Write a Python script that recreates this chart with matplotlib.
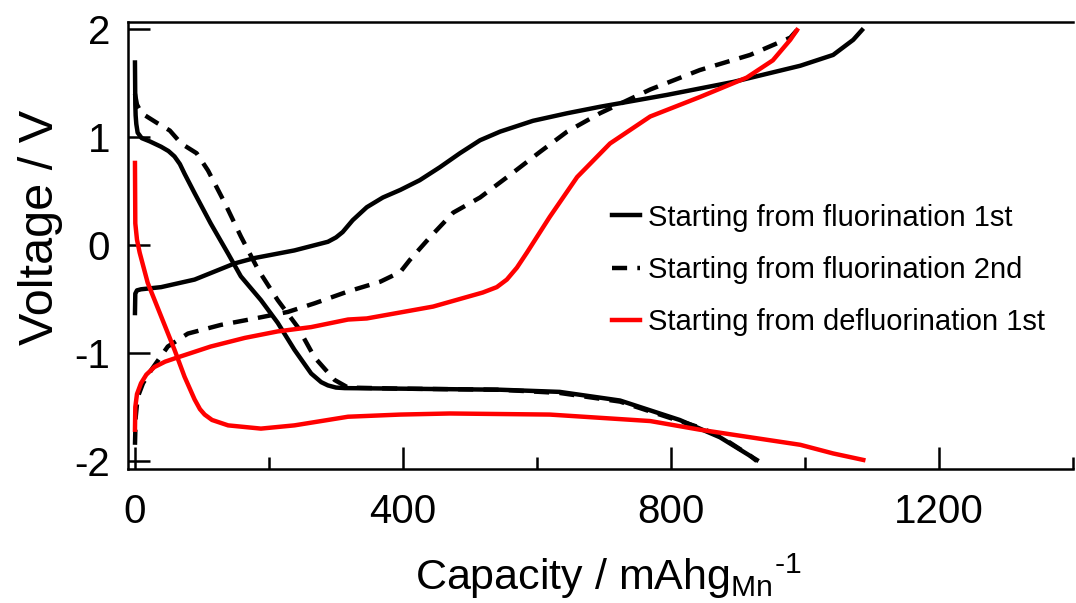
"""Charge/discharge voltage profiles vs. capacity (fluorination / defluorination)."""
import matplotlib

matplotlib.use("Agg")
import matplotlib.pyplot as plt
from matplotlib.ticker import MultipleLocator

# --- data (capacity in mAh g_Mn^-1, voltage in V) ---
# starting from fluorination, 1st cycle
fl1_dis_x = [0, 0.5, 1, 2, 4, 10, 22, 39, 50, 59, 67, 74, 89, 113, 139, 158, 188,
             213, 238, 263, 278, 288, 300, 313, 396, 545, 634, 724, 813, 873, 928]
fl1_dis_y = [1.69, 1.30, 1.20, 1.12, 1.04, 0.99, 0.96, 0.91, 0.87, 0.82, 0.75,
             0.66, 0.48, 0.20, -0.08, -0.29, -0.51, -0.72, -0.97, -1.19, -1.27,
             -1.30, -1.32, -1.325, -1.33, -1.34, -1.36, -1.44, -1.62, -1.78, -1.99]
fl1_chg_x = [0, 0.5, 3, 9, 39, 89, 113, 149, 179, 238, 288, 300, 310, 325, 346,
             370, 396, 425, 455, 485, 515, 545, 594, 645, 694, 794, 893, 993, 1042,
             1072, 1085]
fl1_chg_y = [-0.63, -0.45, -0.42, -0.41, -0.39, -0.32, -0.26, -0.17, -0.12, -0.05,
             0.03, 0.07, 0.12, 0.23, 0.35, 0.44, 0.51, 0.60, 0.72, 0.85, 0.97, 1.05,
             1.15, 1.22, 1.28, 1.39, 1.51, 1.66, 1.76, 1.90, 1.99]

# starting from fluorination, 2nd cycle
fl2_dis_x = [0, 3, 10, 33, 52, 69, 92, 109, 134, 158, 184, 213, 243, 268, 298, 318,
             396, 545, 634, 724, 813, 843, 873, 918, 928]
fl2_dis_y = [1.40, 1.30, 1.22, 1.13, 1.06, 0.94, 0.85, 0.69, 0.39, 0.08, -0.23,
             -0.51, -0.76, -1.04, -1.25, -1.32, -1.33, -1.34, -1.37, -1.45, -1.63,
             -1.69, -1.77, -1.95, -2.00]
fl2_chg_x = [0, 1, 4, 12, 24, 49, 79, 128, 179, 228, 268, 318, 366, 396, 410, 440,
             475, 515, 560, 604, 645, 694, 769, 843, 918, 978, 988]
fl2_chg_y = [-1.85, -1.60, -1.41, -1.28, -1.16, -0.94, -0.82, -0.74, -0.68, -0.62,
             -0.54, -0.43, -0.34, -0.25, -0.14, 0.07, 0.30, 0.44, 0.65, 0.86, 1.05,
             1.22, 1.44, 1.62, 1.76, 1.92, 1.99]

# starting from defluorination, 1st cycle
dfl_dis_x = [0, 0.5, 3, 7, 19, 39, 59, 74, 89, 97, 104, 115, 139, 188, 238, 288,
             318, 396, 470, 619, 769, 843, 918, 993, 1042, 1087]
dfl_dis_y = [0.76, 0.20, 0.05, -0.07, -0.35, -0.66, -0.97, -1.22, -1.43, -1.52,
             -1.57, -1.62, -1.67, -1.70, -1.67, -1.62, -1.59, -1.57, -1.56, -1.57,
             -1.63, -1.71, -1.78, -1.85, -1.93, -1.99]
dfl_chg_x = [0, 0.5, 3, 9, 17, 29, 45, 64, 113, 164, 213, 263, 318, 346, 445, 519,
             540, 555, 570, 585, 619, 660, 709, 769, 843, 913, 952, 978, 988]
dfl_chg_y = [-1.71, -1.50, -1.38, -1.28, -1.20, -1.13, -1.08, -1.04, -0.94, -0.86,
             -0.80, -0.76, -0.69, -0.68, -0.57, -0.44, -0.39, -0.32, -0.21, -0.07,
             0.26, 0.63, 0.94, 1.19, 1.37, 1.55, 1.71, 1.90, 1.99]

labels = ["Starting from fluorination 1st",
          "Starting from fluorination 2nd",
          "Starting from defluorination 1st"]

plt.rcParams["font.family"] = ["Liberation Sans", "DejaVu Sans"]
plt.rcParams["mathtext.fontset"] = "custom"
plt.rcParams["mathtext.rm"] = "Liberation Sans"
plt.rcParams["mathtext.default"] = "regular"
plt.rcParams["axes.unicode_minus"] = False

LW = 3.2
DASH = (3.4, 2.3)

fig = plt.figure(figsize=(10.76, 6.03), dpi=100)
ax = fig.add_axes([128 / 1076, 1 - 469 / 603, 945 / 1076, 447 / 603])

solid, = ax.plot(fl1_dis_x, fl1_dis_y, color="black", lw=LW, label=labels[0])
ax.plot(fl1_chg_x, fl1_chg_y, color="black", lw=LW)
dashed, = ax.plot(fl2_dis_x, fl2_dis_y, color="black", lw=LW, ls=(0, DASH),
                  label=labels[1])
ax.plot(fl2_chg_x, fl2_chg_y, color="black", lw=LW, ls=(0, DASH))
red, = ax.plot(dfl_dis_x, dfl_dis_y, color="#ff0000", lw=LW, label=labels[2])
ax.plot(dfl_chg_x, dfl_chg_y, color="#ff0000", lw=LW)

ax.set_xlim(-10.4, 1400)
ax.set_ylim(-2.074, 2.065)
ax.xaxis.set_major_locator(MultipleLocator(400))
ax.xaxis.set_minor_locator(MultipleLocator(200))
ax.yaxis.set_major_locator(MultipleLocator(1))

for side in ("left", "top", "bottom"):
    ax.spines[side].set_linewidth(1.8)
ax.spines["right"].set_visible(False)

ax.tick_params(axis="both", which="both", direction="in", width=1.8,
               top=False, right=False)
ax.tick_params(axis="x", which="major", length=16, labelsize=29, pad=17)
ax.tick_params(axis="x", which="minor", length=8.5)
ax.tick_params(axis="y", which="major", length=16, labelsize=29, pad=13)

ax.set_xlabel(r"Capacity / mAhg$_{Mn}$$^{\text{-1}}$", fontsize=31, labelpad=15)
ax.set_ylabel("Voltage / V", fontsize=35, labelpad=8)
ax.xaxis.label.set_x(0.508)
ax.yaxis.label.set_y(0.54)

ax.legend(handles=[solid, dashed, red], loc="center left",
          bbox_to_anchor=(612 / 1076, 1 - 270 / 603),
          bbox_transform=fig.transFigure, frameon=False, fontsize=21,
          handlelength=0.95, handletextpad=0.3, labelspacing=0.84,
          borderpad=0, borderaxespad=0)

fig.savefig("out.png", dpi=100)
